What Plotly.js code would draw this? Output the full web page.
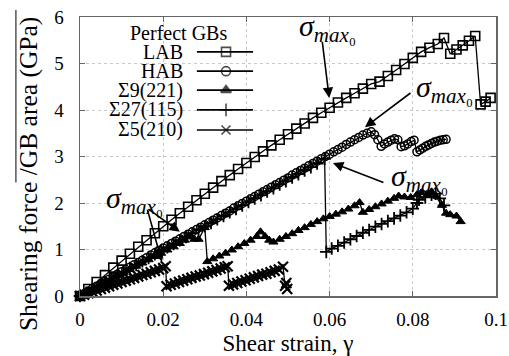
<!DOCTYPE html>
<html>
<head>
<meta charset="utf-8">
<script src="https://cdn.plot.ly/plotly-3.0.1.min.js"></script>
<style>html,body{margin:0;padding:0;background:#fff;}#chart{width:509px;height:356px;}</style>
</head>
<body>
<div id="chart"></div>
<script>
// ---- data ----
const seriesNames = ["LAB", "HAB", "Σ9(221)", "Σ27(115)", "Σ5(210)"];
const legendTitle = "Perfect GBs";

const labX = [0,0.002,0.004,0.006,0.008,0.010,0.012,0.014,0.016,0.018,0.020,0.022,0.024,0.026,0.028,0.030,0.032,0.034,0.036,0.038,0.040,0.042,0.044,0.046,0.048,0.050,0.052,0.054,0.056,0.058,0.060,0.062,0.064,0.066,0.068,0.070,0.072,0.074,0.076,0.078,0.080,0.082,0.084,0.086,0.0875,0.089,0.0905,0.092,0.0935,0.095,0.0963,0.0975,0.0987];
const labY = [0,0.15,0.30,0.45,0.61,0.76,0.91,1.06,1.20,1.35,1.50,1.64,1.78,1.92,2.06,2.20,2.33,2.47,2.60,2.73,2.86,2.99,3.11,3.24,3.36,3.48,3.60,3.71,3.83,3.94,4.05,4.16,4.26,4.36,4.46,4.56,4.61,4.73,4.86,4.99,5.12,5.25,5.34,5.42,5.55,5.21,5.30,5.39,5.49,5.59,4.12,4.18,4.26];

const habX = [0,0.001,0.002,0.003,0.004,0.005,0.006,0.007,0.008,0.009,0.010,0.011,0.012,0.013,0.014,0.015,0.016,0.017,0.018,0.019,0.020,0.021,0.022,0.023,0.024,0.025,0.026,0.027,0.028,0.029,0.030,0.031,0.032,0.033,0.034,0.035,0.036,0.037,0.038,0.039,0.040,0.041,0.042,0.043,0.044,0.045,0.046,0.047,0.048,0.049,0.050,0.051,0.052,0.053,0.054,0.055,0.056,0.057,0.058,0.059,0.060,0.061,0.062,0.063,0.064,0.065,0.066,0.067,0.068,0.069,0.070,0.0708,0.0716,0.0724,0.0732,0.0740,0.0748,0.0756,0.0764,0.0772,0.0780,0.0788,0.0796,0.0803,0.0810,0.0817,0.0824,0.0831,0.0838,0.0845,0.0852,0.0859,0.0866,0.0873,0.0880];
const habY = [0,0.05,0.10,0.16,0.21,0.26,0.31,0.36,0.41,0.47,0.52,0.57,0.62,0.67,0.72,0.77,0.82,0.88,0.93,0.98,1.03,1.08,1.13,1.18,1.23,1.28,1.33,1.38,1.43,1.48,1.53,1.58,1.63,1.68,1.73,1.78,1.83,1.89,1.94,1.99,2.04,2.09,2.14,2.19,2.24,2.29,2.34,2.39,2.44,2.49,2.54,2.60,2.65,2.70,2.75,2.80,2.85,2.90,2.95,3.00,3.05,3.10,3.15,3.20,3.26,3.31,3.36,3.41,3.46,3.50,3.53,3.47,3.36,3.22,3.27,3.31,3.35,3.38,3.36,3.21,3.23,3.27,3.32,3.35,3.10,3.14,3.18,3.22,3.25,3.28,3.31,3.33,3.35,3.36,3.37];

const s9X = [0,0.0015,0.003,0.0045,0.006,0.0075,0.009,0.0105,0.012,0.0135,0.015,0.0165,0.018,0.0195,0.021,0.0225,0.024,0.0252,0.0265,0.0275,0.0285,0.0300,0.0306,0.032,0.0335,0.035,0.0365,0.038,0.0395,0.041,0.0425,0.0434,0.0445,0.0455,0.0465,0.048,0.0495,0.051,0.0525,0.054,0.0555,0.057,0.0585,0.060,0.0615,0.063,0.0645,0.066,0.0672,0.068,0.0695,0.071,0.0725,0.074,0.0755,0.0766,0.078,0.0795,0.081,0.082,0.0835,0.0845,0.0855,0.087,0.088,0.089,0.0905,0.0915];
const s9Y = [0,0.07,0.14,0.21,0.29,0.36,0.43,0.50,0.57,0.64,0.71,0.78,0.85,0.92,0.99,1.06,1.13,1.20,1.27,1.22,1.22,1.47,0.74,0.80,0.86,0.92,0.99,1.06,1.13,1.20,1.28,1.38,1.28,1.20,1.16,1.22,1.28,1.34,1.41,1.47,1.54,1.60,1.66,1.71,1.76,1.81,1.87,1.94,2.01,1.80,1.86,1.92,1.98,2.04,2.10,2.15,2.13,2.12,2.18,2.22,2.18,2.24,2.15,1.95,1.78,1.75,1.72,1.60];

const s27X = [0,0.0015,0.003,0.0045,0.006,0.0075,0.009,0.0105,0.012,0.0135,0.015,0.0165,0.018,0.0195,0.021,0.0225,0.024,0.0255,0.027,0.0285,0.030,0.0315,0.033,0.0345,0.036,0.0375,0.039,0.0405,0.042,0.0435,0.045,0.0465,0.048,0.0495,0.051,0.0525,0.054,0.0555,0.057,0.0588,0.0592,0.0605,0.062,0.0635,0.065,0.0665,0.068,0.0695,0.071,0.0725,0.074,0.0755,0.077,0.0785,0.080,0.081,0.0815,0.083,0.0845,0.0855,0.0865,0.0875];
const s27Y = [0,0.07,0.15,0.22,0.30,0.37,0.45,0.52,0.60,0.67,0.75,0.82,0.90,0.97,1.05,1.12,1.20,1.27,1.35,1.42,1.50,1.57,1.65,1.72,1.80,1.87,1.95,2.02,2.10,2.17,2.25,2.32,2.40,2.47,2.55,2.62,2.70,2.77,2.85,2.95,0.95,1.02,1.08,1.15,1.22,1.29,1.36,1.42,1.49,1.55,1.61,1.67,1.73,1.80,1.88,2.00,2.07,2.12,2.18,2.20,2.10,1.95];

const s5X = [0,0.001,0.002,0.003,0.004,0.005,0.006,0.007,0.008,0.009,0.010,0.011,0.012,0.013,0.014,0.015,0.016,0.017,0.018,0.019,0.020,0.0206,0.0208,0.0218,0.0228,0.0238,0.0248,0.0258,0.0268,0.0278,0.0288,0.0298,0.0308,0.0318,0.0328,0.0338,0.0348,0.0355,0.0358,0.0368,0.0378,0.0388,0.0398,0.0408,0.0418,0.0428,0.0438,0.0448,0.0458,0.0468,0.0478,0.0488,0.0493,0.0496,0.0498];
const s5Y = [0,0.03,0.06,0.09,0.12,0.15,0.18,0.21,0.24,0.27,0.30,0.33,0.36,0.39,0.42,0.45,0.48,0.51,0.54,0.57,0.60,0.64,0.21,0.24,0.27,0.30,0.33,0.36,0.39,0.42,0.44,0.47,0.50,0.53,0.56,0.59,0.62,0.64,0.22,0.25,0.28,0.31,0.34,0.37,0.40,0.43,0.46,0.48,0.51,0.54,0.57,0.63,0.22,0.28,0.15];

const xTickVals = [0,0.02,0.04,0.06,0.08,0.1];
const yTickVals = [0,1,2,3,4,5,6];
const xTitle = "Shear strain, γ";
const yTitle = "Shearing force /GB area (GPa)";
const sigmaLabel = "<i>σ</i><sub><i>max</i>₀</sub>";

// ---- styles ----
const FONT = "Liberation Serif";
const symbols = ["square-open", "circle-open", "triangle-up", "cross-thin-open", "x-thin-open"];
const sizes = [9, 8, 8, 9, 10];
const mlw = [1.6, 1.5, 1, 1.8, 2.2];
const xs = [labX, habX, s9X, s27X, s5X];
const ys = [labY, habY, s9Y, s27Y, s5Y];

const traces = xs.map((x, i) => ({
  type: "scatter", mode: "lines+markers", x: x, y: ys[i], name: seriesNames[i],
  line: {color: "#000", width: 1.3},
  marker: {symbol: symbols[i], size: sizes[i], color: "#000", line: {color: "#000", width: mlw[i]}},
  showlegend: false, cliponaxis: false
}));

// custom legend (symbol to the right of the label, as in the reference)
const legRows = [0.875, 0.806, 0.738, 0.667, 0.595];
const legLine = [0.281, 0.351, 0.416];
seriesNames.forEach((n, i) => {
  traces.push({
    type: "scatter", mode: "lines+markers", xaxis: "x2", yaxis: "y2",
    x: legLine, y: [legRows[i], legRows[i], legRows[i]],
    line: {color: "#000", width: 1.6},
    marker: {symbol: symbols[i], size: [0, 9, 0], color: "#000", line: {color: "#000", width: 1.6}},
    showlegend: false, hoverinfo: "skip"
  });
});

const annotations = [];
annotations.push({xref: "paper", yref: "paper", x: 0.236, y: 0.943, text: legendTitle, showarrow: false,
  xanchor: "center", yanchor: "middle", font: {family: FONT, size: 20, color: "#000"}});
seriesNames.forEach((n, i) => annotations.push({xref: "paper", yref: "paper", x: 0.252, y: legRows[i], text: n,
  showarrow: false, xanchor: "right", yanchor: "middle", font: {family: FONT, size: 20, color: "#000"}}));

// y axis title (placed as in the reference, extending below the plot)
annotations.push({xref: "paper", yref: "paper", x: -0.125, y: 0.437, text: yTitle, textangle: -90,
  showarrow: false, xanchor: "center", yanchor: "middle", font: {family: FONT, size: 25.5, color: "#000"}});

const sigmaTexts = [[0.0594, 5.76], [0.0877, 4.45], [0.0817, 2.54], [0.0132, 2.06]];
sigmaTexts.forEach(p => annotations.push({x: p[0], y: p[1], text: sigmaLabel, showarrow: false,
  xanchor: "center", yanchor: "middle", font: {family: FONT, size: 30, color: "#000"}}));
const arrows = [
  [0.0582, 5.5, 0.0599, 4.26],
  [0.0798, 4.39, 0.0685, 3.63],
  [0.0733, 2.43, 0.0608, 2.86],
  [0.0161, 1.89, 0.024, 1.38],
  [0.0161, 1.89, 0.0197, 0.73]
];
arrows.forEach(a => annotations.push({x: a[2], y: a[3], ax: a[0], ay: a[1], axref: "x", ayref: "y",
  text: "", showarrow: true, arrowhead: 2, arrowsize: 1.3, arrowwidth: 1.6, arrowcolor: "#000", standoff: 0}));

const axisCommon = {
  showline: true, linecolor: "#666", linewidth: 1.5, mirror: "ticks",
  ticks: "inside", ticklen: 5, tickcolor: "#666", tickwidth: 1,
  showgrid: true, gridcolor: "#c8c8c8", griddash: "dot", gridwidth: 1,
  zeroline: false, tickfont: {family: FONT, size: 19, color: "#000"}
};

const layout = {
  width: 509, height: 356,
  margin: {l: 80, r: 13, t: 17, b: 60},
  paper_bgcolor: "#fff", plot_bgcolor: "#fff",
  font: {family: FONT},
  showlegend: false,
  xaxis: Object.assign({}, axisCommon, {range: [0, 0.1], tickvals: xTickVals, ticktext: xTickVals.map(String),
    ticklabelstandoff: 6,
    title: {text: xTitle, font: {family: FONT, size: 23, color: "#000"}, standoff: 8}}),
  yaxis: Object.assign({}, axisCommon, {range: [0, 6], tickvals: yTickVals, ticklabelstandoff: 11}),
  xaxis2: {overlaying: "x", range: [0, 1], visible: false, fixedrange: true},
  yaxis2: {overlaying: "y", range: [0, 1], visible: false, fixedrange: true},
  annotations: annotations,
  shapes: [{type: "line", xref: "paper", yref: "paper", x0: -0.154, x1: -0.154, y0: 1.025, y1: 0.407,
    line: {color: "#000", width: 1}}]
};

Plotly.newPlot("chart", traces, layout, {staticPlot: true, displayModeBar: false});
</script>
</body>
</html>
